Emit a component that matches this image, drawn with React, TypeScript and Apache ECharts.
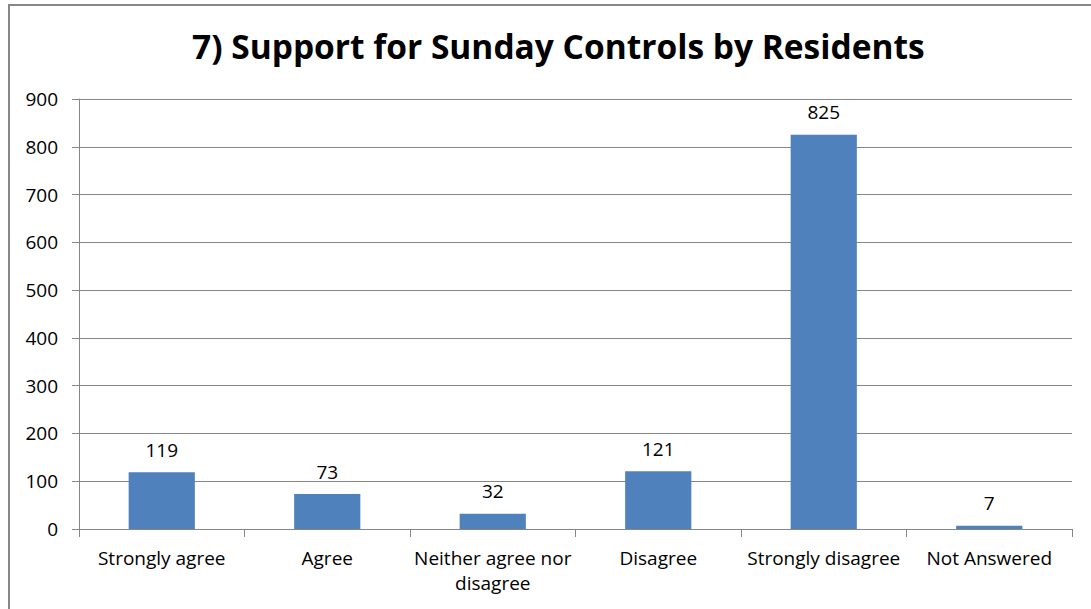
import React, { useEffect, useRef } from "react";
import * as echarts from "echarts";

const categories = [
  "Strongly agree",
  "Agree",
  "Neither agree nor\ndisagree",
  "Disagree",
  "Strongly disagree",
  "Not Answered",
];
const responses = [119, 73, 32, 121, 825, 7];
const yMax = 900;
const yStep = 100;

const FONT = "'Open Sans', Lato, 'Liberation Sans', sans-serif";

export default function App() {
  const ref = useRef<HTMLDivElement>(null);

  useEffect(() => {
    document.body.style.margin = "0";
    if (!ref.current) return;
    const chart = echarts.init(ref.current, undefined, { renderer: "svg" });
    chart.setOption({
      animation: false,
      backgroundColor: "#ffffff",
      title: {
        text: "7) Support for Sunday Controls by Residents",
        left: 187,
        top: 24,
        textStyle: {
          fontFamily: FONT,
          fontSize: 33.5,
          fontWeight: "bold",
          color: "#000000",
        },
      },
      graphic: [
        {
          type: "rect",
          shape: { x: 9, y: 5, width: 1200, height: 800 },
          style: { fill: "none", stroke: "#878787", lineWidth: 2 },
          silent: true,
        },
      ],
      grid: { left: 79, right: 19, top: 99, bottom: 80 },
      xAxis: {
        type: "category",
        data: categories,
        axisLine: { lineStyle: { color: "#868686", width: 1 } },
        axisTick: {
          show: true,
          alignWithLabel: false,
          length: 8,
          lineStyle: { color: "#868686" },
        },
        axisLabel: {
          interval: 0,
          margin: 16,
          fontFamily: FONT,
          fontSize: 19,
          color: "#000000",
          lineHeight: 25,
        },
      },
      yAxis: {
        type: "value",
        min: 0,
        max: yMax,
        interval: yStep,
        axisLine: { show: true, lineStyle: { color: "#868686", width: 1 } },
        axisTick: { show: true, length: 7, lineStyle: { color: "#868686" } },
        splitLine: { lineStyle: { color: "#868686", width: 1 } },
        axisLabel: {
          margin: 21,
          fontFamily: FONT,
          fontSize: 19,
          color: "#000000",
        },
      },
      series: [
        {
          type: "bar",
          data: responses,
          barWidth: "40%",
          itemStyle: { color: "#4F81BD" },
          label: {
            show: true,
            position: "top",
            distance: 13,
            fontFamily: FONT,
            fontSize: 19,
            color: "#000000",
          },
        },
      ],
    });
    return () => chart.dispose();
  }, []);

  return <div ref={ref} style={{ width: 1091, height: 609 }} />;
}
